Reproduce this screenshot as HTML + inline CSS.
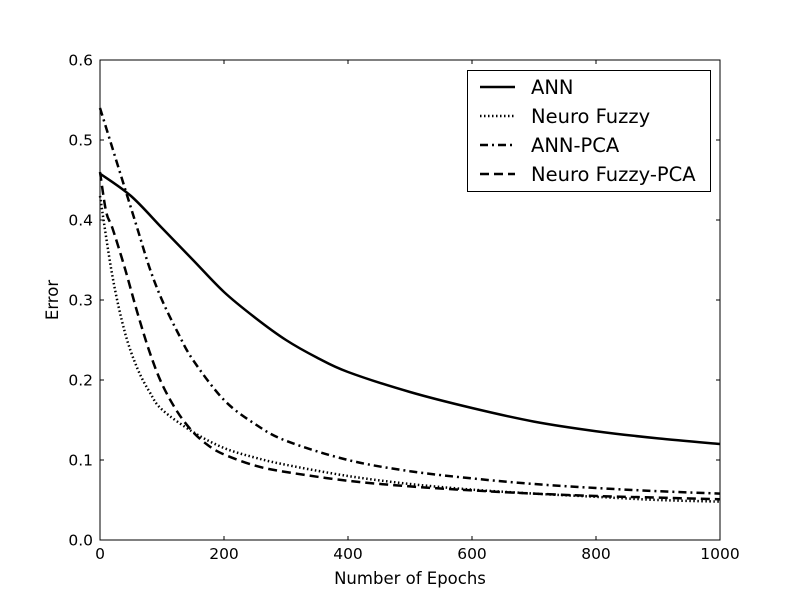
<!DOCTYPE html>
<html><head><meta charset="utf-8"><style>
body{margin:0;background:#fff;}
svg text{font-family:"DejaVu Sans","Liberation Sans",sans-serif;fill:#000;}
</style></head><body>
<svg id="chart" width="800" height="600" xmlns="http://www.w3.org/2000/svg">
<rect x="0" y="0" width="800" height="600" fill="#fff"/>
<g id="series"></g>
<rect x="100" y="60" width="620" height="480" fill="none" stroke="#000" stroke-width="1"/>
<g id="ticks"></g>
<text x="410" y="584" font-size="16.5" text-anchor="middle">Number of Epochs</text>
<text x="58" y="300" font-size="16.5" text-anchor="middle" transform="rotate(-90 58 300)">Error</text>
<g>
<rect x="467.5" y="70.5" width="243" height="121" fill="#fff" stroke="#000"/>
<g><line x1="480" y1="87" x2="515" y2="87" stroke="#000" stroke-width="2.5"/><text x="531" y="94" font-size="19.5">ANN</text></g>
<g><line x1="480" y1="116" x2="515" y2="116" stroke="#000" stroke-width="2.5" stroke-dasharray="1.5,2.5"/><text x="531" y="123" font-size="19.5">Neuro Fuzzy</text></g>
<g><line x1="480" y1="145" x2="515" y2="145" stroke="#000" stroke-width="2.5" stroke-dasharray="8,4,2,4"/><text x="531" y="152" font-size="19.5">ANN-PCA</text></g>
<g><line x1="480" y1="174" x2="515" y2="174" stroke="#000" stroke-width="2.5" stroke-dasharray="9,5"/><text x="531" y="181" font-size="19.5">Neuro Fuzzy-PCA</text></g>
</g>
</svg>
<script>
const annEpochs = [0,50,100,150,200,250,300,350,400,500,600,700,800,900,1000];
const annValues = [0.458,0.43,0.39,0.35,0.31,0.278,0.25,0.228,0.21,0.185,0.165,0.148,0.136,0.127,0.12];
const nfEpochs = [0,20,40,60,80,100,150,200,250,300,400,500,600,700,800,900,1000];
const nfValues = [0.43,0.33,0.26,0.215,0.185,0.163,0.135,0.115,0.103,0.094,0.08,0.07,0.063,0.058,0.054,0.05,0.048];
const annPcaEpochs = [0,20,40,60,80,100,125,150,200,250,300,400,500,600,700,800,900,1000];
const annPcaValues = [0.54,0.49,0.44,0.39,0.34,0.3,0.26,0.225,0.175,0.145,0.124,0.1,0.086,0.077,0.07,0.065,0.061,0.058];
const nfPcaEpochs = [0,10,20,40,60,80,100,125,150,175,200,250,300,400,500,600,700,800,900,1000];
const nfPcaValues = [0.46,0.41,0.39,0.34,0.285,0.235,0.195,0.16,0.135,0.118,0.107,0.093,0.085,0.074,0.067,0.062,0.058,0.055,0.053,0.051];
const xTicks = [0,200,400,600,800,1000];
const yTicks = [0.0,0.1,0.2,0.3,0.4,0.5,0.6];

const NS="http://www.w3.org/2000/svg";
function xs(v){return 100+v/1000*620;}
function ys(v){return 540-v/0.6*480;}
function smoothPath(xa,ya){
  const p=xa.map((x,i)=>[xs(x),ys(ya[i])]);
  let d=`M${p[0][0]},${p[0][1]}`;
  for(let i=0;i<p.length-1;i++){
    const p0=p[Math.max(i-1,0)],p1=p[i],p2=p[i+1],p3=p[Math.min(i+2,p.length-1)];
    const c1=[p1[0]+(p2[0]-p0[0])/6,p1[1]+(p2[1]-p0[1])/6];
    const c2=[p2[0]-(p3[0]-p1[0])/6,p2[1]-(p3[1]-p1[1])/6];
    d+=` C${c1[0]},${c1[1]} ${c2[0]},${c2[1]} ${p2[0]},${p2[1]}`;
  }
  return d;
}
const g=document.getElementById('series');
function addSeries(xa,ya,dash,name){
  const el=document.createElementNS(NS,'path');
  el.setAttribute('d',smoothPath(xa,ya));
  el.setAttribute('fill','none');el.setAttribute('stroke','#000');el.setAttribute('stroke-width','2.5');
  if(dash)el.setAttribute('stroke-dasharray',dash);
  
  
  g.appendChild(el);
}
addSeries(annEpochs,annValues,null,'ann-line');
addSeries(nfEpochs,nfValues,'1.5,2.5','neuro-fuzzy-line');
addSeries(annPcaEpochs,annPcaValues,'8,4,2,4','ann-pca-line');
addSeries(nfPcaEpochs,nfPcaValues,'9,5','neuro-fuzzy-pca-line');
const t=document.getElementById('ticks');
xTicks.forEach(v=>{
  const x=xs(v);
  [[540,536],[60,64]].forEach(([a,b])=>{const l=document.createElementNS(NS,'line');l.setAttribute('x1',x);l.setAttribute('x2',x);l.setAttribute('y1',a);l.setAttribute('y2',b);l.setAttribute('stroke','#000');
  
  
  t.appendChild(l);});
  const tx=document.createElementNS(NS,'text');tx.setAttribute('x',x);tx.setAttribute('y',559);tx.setAttribute('font-size','15.5');tx.setAttribute('text-anchor','middle');tx.textContent=String(v);
  
  
  t.appendChild(tx);
});
yTicks.forEach(v=>{
  const y=ys(v);
  [[100,104],[720,716]].forEach(([a,b])=>{const l=document.createElementNS(NS,'line');l.setAttribute('x1',a);l.setAttribute('x2',b);l.setAttribute('y1',y);l.setAttribute('y2',y);l.setAttribute('stroke','#000');
  
  
  t.appendChild(l);});
  const tx=document.createElementNS(NS,'text');tx.setAttribute('x',93);tx.setAttribute('y',y+5.5);tx.setAttribute('font-size','15.5');tx.setAttribute('text-anchor','end');tx.textContent=v.toFixed(1);
  
  
  t.appendChild(tx);
});
</script>
</body></html>
